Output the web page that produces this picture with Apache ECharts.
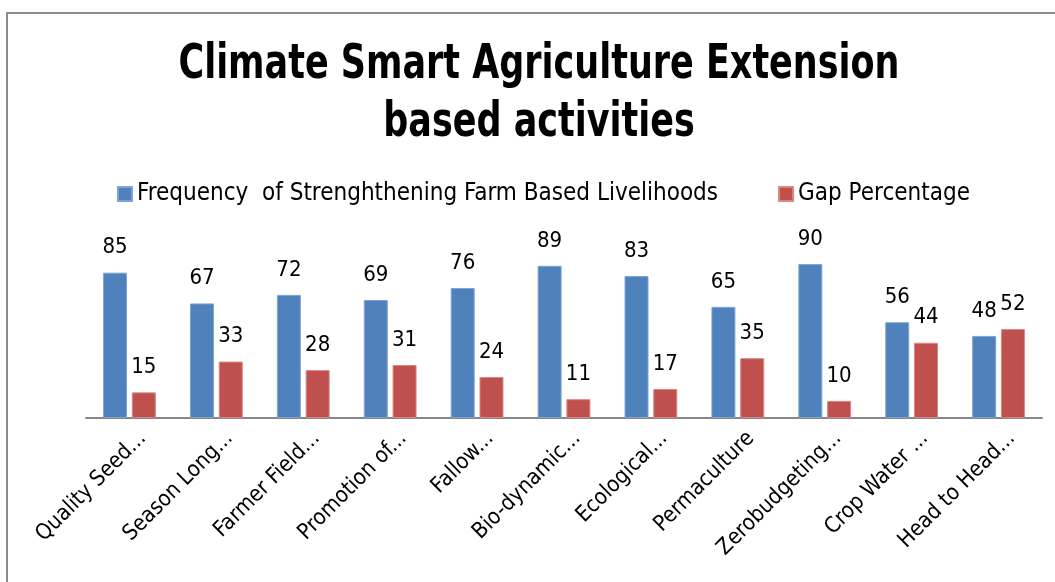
<!DOCTYPE html>
<html>
<head>
<meta charset="utf-8">
<script src="https://cdn.jsdelivr.net/npm/echarts@6/dist/echarts.min.js"></script>
<style>
html,body{margin:0;padding:0;background:#fff;}
#main{width:1055px;height:582px;}
</style>
</head>
<body>
<div id="main"></div>
<script>
var categories = ["Quality Seed...", "Season Long...", "Farmer Field...", "Promotion of...", "Fallow...", "Bio-dynamic...", "Ecological...", "Permaculture", "Zerobudgeting...", "Crop Water ...", "Head to Head..."];
var frequency = [85, 67, 72, 69, 76, 89, 83, 65, 90, 56, 48];
var gap = [15, 33, 28, 31, 24, 11, 17, 35, 10, 44, 52];
var seriesNames = ["Frequency  of Strenghthening Farm Based Livelihoods", "Gap Percentage"];
var titleLines = ["Climate Smart Agriculture Extension", "based activities"];

var FONT = "'DejaVu Sans Condensed', 'Liberation Sans Narrow', sans-serif";
var chart = echarts.init(document.getElementById('main'));
chart.setOption({
  animation: false,
  graphic: [{
    type: 'rect', shape: {x: 7, y: 13, width: 1100, height: 650},
    style: {fill: 'none', stroke: '#8c8c8c', lineWidth: 2}, z: -1
  }, {
    type: 'text', x: 539, y: 66, scaleX: 0.81,
    style: {text: titleLines[0], font: "bold 48px " + FONT, fill: '#000', align: 'center', verticalAlign: 'middle'}
  }, {
    type: 'text', x: 539, y: 124, scaleX: 0.81,
    style: {text: titleLines[1], font: "bold 48px " + FONT, fill: '#000', align: 'center', verticalAlign: 'middle'}
  }],
  legend: {
    top: 177, left: 112,
    itemWidth: 14, itemHeight: 14, itemGap: 60,
    icon: 'rect',
    textStyle: {fontFamily: FONT, fontSize: 24, color: '#000'},
    data: seriesNames
  },
  grid: {left: 86, right: 13, top: 247, bottom: 164, containLabel: false},
  xAxis: {
    type: 'category', data: categories,
    axisLine: {lineStyle: {color: '#878787', width: 2}},
    axisTick: {show: false},
    axisLabel: {rotate: 45, interval: 0, fontFamily: FONT, fontSize: 22, color: '#000',
      margin: 4, verticalAlign: 'top', lineHeight: 37}
  },
  yAxis: {
    type: 'value', min: 0, max: 100, show: false, splitLine: {show: false}
  },
  series: [{
    name: seriesNames[0], type: 'bar', data: frequency,
    barWidth: '27.6%', barGap: '20%',
    itemStyle: {color: '#4F81BD', borderColor: '#7fa4d3', borderWidth: 1},
    label: {show: true, position: 'top', distance: 14, fontFamily: FONT, fontSize: 22, color: '#000'}
  }, {
    name: seriesNames[1], type: 'bar', data: gap,
    barWidth: '27.6%',
    itemStyle: {color: '#C0504D', borderColor: '#d98785', borderWidth: 1},
    label: {show: true, position: 'top', distance: 14, fontFamily: FONT, fontSize: 22, color: '#000'}
  }]
});
</script>
</body>
</html>
